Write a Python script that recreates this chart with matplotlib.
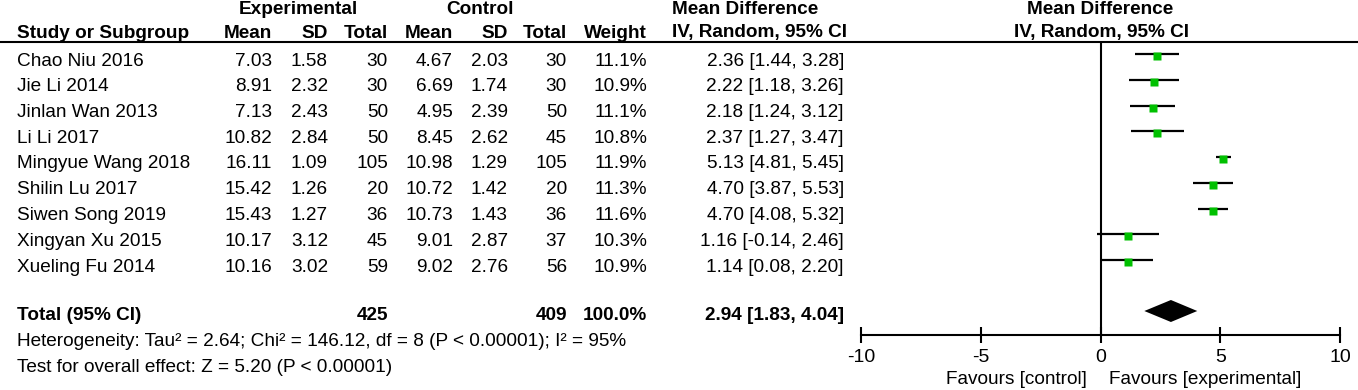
import numpy as np
import matplotlib.pyplot as plt

plt.rcParams['font.family'] = ['Liberation Sans', 'DejaVu Sans']

studies = ["Chao Niu 2016", "Jie Li 2014", "Jinlan Wan 2013", "Li Li 2017",
           "Mingyue Wang 2018", "Shilin Lu 2017", "Siwen Song 2019",
           "Xingyan Xu 2015", "Xueling Fu 2014"]
exp_mean = [7.03, 8.91, 7.13, 10.82, 16.11, 15.42, 15.43, 10.17, 10.16]
exp_sd = [1.58, 2.32, 2.43, 2.84, 1.09, 1.26, 1.27, 3.12, 3.02]
exp_n = [30, 30, 50, 50, 105, 20, 36, 45, 59]
ctl_mean = [4.67, 6.69, 4.95, 8.45, 10.98, 10.72, 10.73, 9.01, 9.02]
ctl_sd = [2.03, 1.74, 2.39, 2.62, 1.29, 1.42, 1.43, 2.87, 2.76]
ctl_n = [30, 30, 50, 45, 105, 20, 36, 37, 56]
weight = [11.1, 10.9, 11.1, 10.8, 11.9, 11.3, 11.6, 10.3, 10.9]
md = [2.36, 2.22, 2.18, 2.37, 5.13, 4.70, 4.70, 1.16, 1.14]
ci_lo = [1.44, 1.18, 1.24, 1.27, 4.81, 3.87, 4.08, -0.14, 0.08]
ci_hi = [3.28, 3.26, 3.12, 3.47, 5.45, 5.53, 5.32, 2.46, 2.20]

tot_exp_n, tot_ctl_n = 425, 409
tot_md, tot_lo, tot_hi = 2.94, 1.83, 4.04
het_text = "Heterogeneity: Tau² = 2.64; Chi² = 146.12, df = 8 (P < 0.00001); I² = 95%"
test_text = "Test for overall effect: Z = 5.20 (P < 0.00001)"
xticks = [-10, -5, 0, 5, 10]

fs = 13.7
W, H = 1358, 390
fig = plt.figure(figsize=(W / 100, H / 100), dpi=100)

# table layer in pixel coordinates
tab = fig.add_axes([0, 0, 1, 1])
tab.set_xlim(0, W)
tab.set_ylim(H, 0)
tab.axis('off')

# forest plot layer
ax = fig.add_axes([861 / W, 0, 479 / W, 1])
ax.set_xlim(-10, 10)
ax.set_ylim(H, 0)
ax.patch.set_alpha(0)

# column right edges
cols = [272, 328, 388, 453, 508, 567, 647, 844]
row0, dy = 61, 25.75
rows = [row0 + i * dy for i in range(len(studies))]

# headers
tab.text(298, 9, "Experimental", ha='center', va='center', fontsize=fs, fontweight='bold')
tab.text(480, 9, "Control", ha='center', va='center', fontsize=fs, fontweight='bold')
tab.text(672, 9, "Mean Difference", ha='left', va='center', fontsize=fs, fontweight='bold')
tab.text(17, 33, "Study or Subgroup", ha='left', va='center', fontsize=fs, fontweight='bold')
for x, h in zip(cols[:7], ["Mean", "SD", "Total", "Mean", "SD", "Total", "Weight"]):
    tab.text(x, 33, h, ha='right', va='center', fontsize=fs, fontweight='bold')
tab.text(672, 33, "IV, Random, 95% CI", ha='left', va='center', fontsize=fs, fontweight='bold')
tab.text(1100, 9, "Mean Difference", ha='center', va='center', fontsize=fs, fontweight='bold')
tab.text(1102, 33, "IV, Random, 95% CI", ha='center', va='center', fontsize=fs, fontweight='bold')
tab.hlines(41.5, 0, W, color='black', lw=1.5)

# study rows
for i, y in enumerate(rows):
    tab.text(17, y, studies[i], ha='left', va='center', fontsize=fs)
    vals = [f"{exp_mean[i]:.2f}", f"{exp_sd[i]:.2f}", f"{exp_n[i]}",
            f"{ctl_mean[i]:.2f}", f"{ctl_sd[i]:.2f}", f"{ctl_n[i]}",
            f"{weight[i]:.1f}%", f"{md[i]:.2f} [{ci_lo[i]:.2f}, {ci_hi[i]:.2f}]"]
    for x, v in zip(cols, vals):
        tab.text(x, y, v, ha='right', va='center', fontsize=fs)

# total row
ty = 316
tab.text(17, ty, "Total (95% CI)", ha='left', va='center', fontsize=fs, fontweight='bold')
tab.text(cols[2], ty, f"{tot_exp_n}", ha='right', va='center', fontsize=fs, fontweight='bold')
tab.text(cols[5], ty, f"{tot_ctl_n}", ha='right', va='center', fontsize=fs, fontweight='bold')
tab.text(cols[6], ty, "100.0%", ha='right', va='center', fontsize=fs, fontweight='bold')
tab.text(cols[7], ty, f"{tot_md:.2f} [{tot_lo:.2f}, {tot_hi:.2f}]", ha='right', va='center',
         fontsize=fs, fontweight='bold')
tab.text(17, 342, het_text, ha='left', va='center', fontsize=fs)
tab.text(17, 367, test_text, ha='left', va='center', fontsize=fs)

# forest marks
ax.vlines(0, 41.5, 335, color='black', lw=1.5)
rows_arr = np.array(rows)
ax.hlines(rows_arr - 7, ci_lo, ci_hi, color='black', lw=1.6)
ax.plot(md, rows_arr - 5, 's', color='#00C000', ms=5.5, mec='none', zorder=3)
ax.fill([tot_lo, tot_md, tot_hi, tot_md], [ty - 5, ty - 16, ty - 5, ty + 6], color='black', lw=0)

# axis
for s in ['top', 'left', 'right']:
    ax.spines[s].set_visible(False)
ax.spines['bottom'].set_position(('data', 335))
ax.spines['bottom'].set_linewidth(1.5)
ax.set_yticks([])
ax.set_xticks(xticks)
ax.set_xticklabels([str(t) for t in xticks])
ax.tick_params(axis='x', direction='inout', length=12, width=1.5, labelsize=14, pad=4)

tab.text(1087, 380, "Favours [control]", ha='right', va='center', fontsize=fs)
tab.text(1109, 380, "Favours [experimental]", ha='left', va='center', fontsize=fs)

fig.savefig("out.png", dpi=100)
